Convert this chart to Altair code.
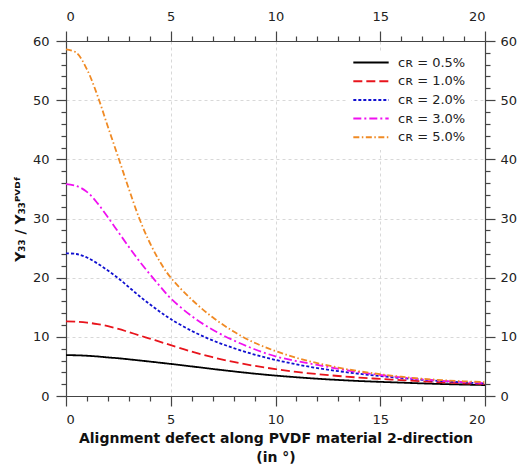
import altair as alt
import pandas as pd

angles = [0, 0.5, 1, 1.5, 2, 2.5, 3, 3.5, 4, 4.5, 5, 6, 7, 8, 9, 10, 11, 12, 13, 14, 15, 16, 17, 18, 19, 20]

y_05 = [6.9, 6.88, 6.8, 6.68, 6.52, 6.38, 6.2, 6.01, 5.82, 5.62, 5.42, 5.0, 4.57, 4.16, 3.78, 3.45, 3.17, 2.92, 2.71, 2.53, 2.39, 2.26, 2.13, 2.02, 1.93, 1.85]
y_10 = [12.6, 12.55, 12.4, 12.15, 11.8, 11.35, 10.8, 10.25, 9.7, 9.15, 8.6, 7.5, 6.55, 5.75, 5.1, 4.55, 4.08, 3.7, 3.38, 3.11, 2.89, 2.68, 2.48, 2.3, 2.14, 2.0]
y_20 = [24.1, 24.0, 23.4, 22.4, 21.2, 19.9, 18.4, 16.9, 15.5, 14.2, 13.0, 11.0, 9.4, 8.1, 7.0, 6.1, 5.35, 4.72, 4.2, 3.75, 3.36, 3.03, 2.75, 2.5, 2.29, 2.1]
y_30 = [35.8, 35.5, 34.5, 32.6, 30.2, 27.7, 25.2, 22.8, 20.6, 18.5, 16.5, 13.5, 11.2, 9.4, 7.9, 6.7, 5.9, 5.25, 4.6, 4.02, 3.55, 3.15, 2.82, 2.56, 2.36, 2.2]
y_50 = [58.6, 58.0, 55.2, 50.8, 45.5, 40.3, 35.0, 30.0, 25.9, 22.6, 20.0, 16.3, 13.3, 10.9, 9.0, 7.6, 6.45, 5.55, 4.8, 4.18, 3.68, 3.26, 2.93, 2.67, 2.48, 2.35]

series_labels = ["cʀ = 0.5%", "cʀ = 1.0%", "cʀ = 2.0%", "cʀ = 3.0%", "cʀ = 5.0%"]
series_values = [y_05, y_10, y_20, y_30, y_50]
colors = ["#000000", "#e8141c", "#1010d0", "#f010f0", "#f08a24"]
dashes = [[1, 0], [9, 4], [3, 2], [8, 3, 2, 3], [6, 2.5, 1.5, 2.5]]

rows = []
for lab, vals in zip(series_labels, series_values):
    for a, v in zip(angles, vals):
        rows.append({"angle": a, "ratio": v, "series": lab})
df = pd.DataFrame(rows)

font = "DejaVu Sans"
x_ticks = list(range(0, 21))
y_ticks = list(range(0, 61, 2))
maj5 = "datum.value % 5 === 0"
maj10 = "datum.value % 10 === 0"

x_scale = alt.Scale(domain=[0, 20], nice=False, zero=False)
y_scale = alt.Scale(domain=[0, 60], nice=False)

common_axis = dict(
    labelFont=font, labelFontSize=13, labelColor="#222222",
    domainColor="#444444", tickColor="#444444", tickWidth=1.2, domainWidth=1.2,
    titleFont=font, titleFontSize=14, titleFontWeight="bold", titleColor="#111111",
)

x_bottom = alt.Axis(
    orient="bottom", values=x_ticks, labelExpr=f"{maj5} ? datum.label : ''",
    tickSize={"condition": {"test": maj5, "value": 10}, "value": 5},
    grid=True, gridDash=[3, 3], gridColor="#d8d8d8",
    gridOpacity={"condition": {"test": maj5, "value": 1}, "value": 0},
    labelPadding=7.5, titlePadding=5, titleLineHeight=19,
    title=["Alignment defect along PVDF material 2-direction", "(in °)"],
    **common_axis,
)
y_left = alt.Axis(
    orient="left", values=y_ticks, labelExpr=f"{maj10} ? datum.label : ''",
    tickSize={"condition": {"test": maj10, "value": 10}, "value": 5},
    grid=True, gridDash=[3, 3], gridColor="#d8d8d8",
    gridOpacity={"condition": {"test": maj10, "value": 1}, "value": 0},
    labelPadding=7, titlePadding=5,
    title="Y₃₃ / Y₃₃ᴾⱽᴰᶠ",
    **common_axis,
)
x_top = alt.Axis(
    orient="top", values=x_ticks, labelExpr=f"{maj5} ? datum.label : ''",
    tickSize={"condition": {"test": maj5, "value": 10}, "value": 5},
    grid=False, labelPadding=7.5, title=None, **common_axis,
)
y_right = alt.Axis(
    orient="right", values=y_ticks, labelExpr=f"{maj10} ? datum.label : ''",
    tickSize={"condition": {"test": maj10, "value": 10}, "value": 5},
    grid=False, labelPadding=5, title=None, **common_axis,
)

legend = alt.Legend(
    orient="none", legendX=281, legendY=10,
    fillColor="white", padding=5,
    symbolType="stroke", symbolSize=1250, symbolStrokeWidth=2,
    labelFont=font, labelFontSize=13, labelColor="#222222",
    clipHeight=13, rowPadding=4.7, labelOffset=8,
)

lines = alt.Chart(df).mark_line(strokeWidth=1.8, interpolate="catmull-rom").encode(
    x=alt.X("angle:Q", scale=x_scale, axis=x_bottom),
    y=alt.Y("ratio:Q", scale=y_scale, axis=y_left),
    color=alt.Color("series:N", scale=alt.Scale(domain=series_labels, range=colors),
                    sort=series_labels, title=None, legend=legend),
    strokeDash=alt.StrokeDash("series:N", scale=alt.Scale(domain=series_labels, range=dashes),
                              sort=series_labels, title=None, legend=legend),
    order="angle:Q",
)

ghost = alt.Chart(df).mark_line(opacity=0).encode(
    x=alt.X("angle:Q", scale=x_scale, axis=x_top),
    y=alt.Y("ratio:Q", scale=y_scale, axis=y_right),
    detail="series:N",
)

chart = alt.layer(lines, ghost).resolve_axis(
    x="independent", y="independent"
).properties(
    width=419, height=355,
    autosize=alt.AutoSizeParams(type="none"),
    padding={"left": 66, "top": 41, "right": 34, "bottom": 72},
).configure_view(
    stroke="#444444", strokeWidth=1.2
).configure(background="white")

chart.save("out.html", embed_options={"renderer": "svg", "actions": False})
